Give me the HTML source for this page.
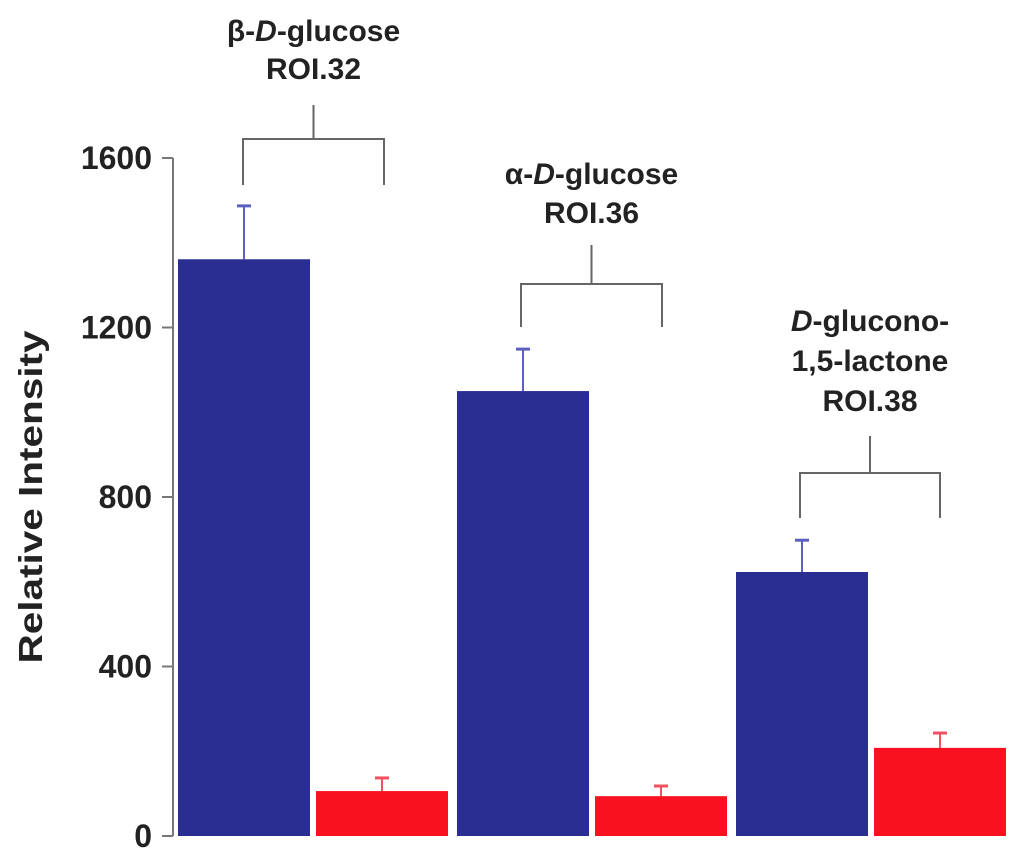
<!DOCTYPE html>
<html><head><meta charset="utf-8"><style>
body{margin:0;background:#fff}
svg text{font-family:"Liberation Sans",sans-serif;font-weight:bold;fill:#222}
</style></head><body>
<svg width="1024" height="859" viewBox="0 0 1024 859">
<g id="axis"></g>
<g id="bars"></g>
<g id="ann"></g>
<text transform="translate(42,497) rotate(-90)" text-anchor="middle" font-size="33" textLength="333" lengthAdjust="spacingAndGlyphs">Relative Intensity</text>
</svg>
<script>
const groups=["β-D-glucose ROI.32","α-D-glucose ROI.36","D-glucono-1,5-lactone ROI.38"];
const blueVals=[1361,1050,623];
const blueErr=[126,99,75];
const redVals=[106,94,208];
const redErr=[31,24,35];
const ticks=[0,400,800,1200,1600];
const NS="http://www.w3.org/2000/svg";
const y=v=>836-v*(836-158)/1600;
function mk(tag,attrs,parent){const e=document.createElementNS(NS,tag);for(const k in attrs)e.setAttribute(k,attrs[k]);parent.appendChild(e);return e;}
const ax=document.getElementById('axis'),bars=document.getElementById('bars'),ann=document.getElementById('ann');
mk('line',{x1:173,x2:173,y1:y(1600),y2:y(0),stroke:'#777','stroke-width':2},ax);
ticks.forEach(t=>{
 const l=mk('line',{x1:162,x2:173,y1:y(t),y2:y(t),stroke:'#777','stroke-width':2},ax);
 
 
 const tx=mk('text',{x:152,y:y(t)+11,'text-anchor':'end','font-size':32},ax);
 tx.textContent=t;
 
 
});
const gx=[178,457,736],bw=132,gap=138;
function bar(x,v,e,fill,ec,name){
 const cx=x+bw/2;
 const l=mk('line',{x1:cx,x2:cx,y1:y(v),y2:y(v+e),stroke:ec,'stroke-width':2},bars);
 
 
 const c=mk('line',{x1:cx-7,x2:cx+7,y1:y(v+e),y2:y(v+e),stroke:ec,'stroke-width':3},bars);
 
 
 const r=mk('rect',{x:x,y:y(v),width:bw,height:y(0)-y(v),fill:fill},bars);
 
 
}
blueVals.forEach((v,i)=>bar(gx[i],v,blueErr[i],'#2a2e93','#5a5fc0','bar-blue-'+(i+1)));
redVals.forEach((v,i)=>bar(gx[i]+gap,v,redErr[i],'#fa111f','#f05060','bar-red-'+(i+1)));
const FS=30;
const br=[{x1:243,x2:384,top:139,bot:185,stem:105,lines:[["β-",1],["D",2],["-glucose",1]],ly:[41,79],l2:"ROI.32"},
 {x1:521,x2:662,top:284,bot:327,stem:245,lines:[["α-",1],["D",2],["-glucose",1]],ly:[184,223],l2:"ROI.36"},
 {x1:800,x2:940,top:473,bot:518,stem:436,lines:null,ly:[331,371,411]}];
br.forEach((b,i)=>{
 const cx=(b.x1+b.x2)/2;
 const p=mk('path',{d:`M${b.x1} ${b.bot}V${b.top}H${b.x2}V${b.bot}M${cx} ${b.top}V${b.stem}`,fill:'none',stroke:'#666','stroke-width':2},ann);
 
 
 let t;
 if(b.lines){
  t=mk('text',{x:cx,y:b.ly[0],'text-anchor':'middle','font-size':FS},ann);
  t.innerHTML=`<tspan>${b.lines[0][0]}</tspan><tspan font-style="italic">D</tspan><tspan>-glucose</tspan>`;
  const t2=mk('text',{x:cx,y:b.ly[1],'text-anchor':'middle','font-size':FS},ann);
  t2.textContent=b.l2;
  
  
 } else {
  t=mk('text',{x:cx,y:b.ly[0],'text-anchor':'middle','font-size':FS},ann);
  t.innerHTML=`<tspan font-style="italic">D</tspan><tspan>-glucono-</tspan>`;
  const t2=mk('text',{x:cx,y:b.ly[1],'text-anchor':'middle','font-size':FS},ann);
  t2.textContent="1,5-lactone";
  
  
  const t3=mk('text',{x:cx,y:b.ly[2],'text-anchor':'middle','font-size':FS},ann);
  t3.textContent="ROI.38";
  
  
 }
 
 
});
</script>
</body></html>
